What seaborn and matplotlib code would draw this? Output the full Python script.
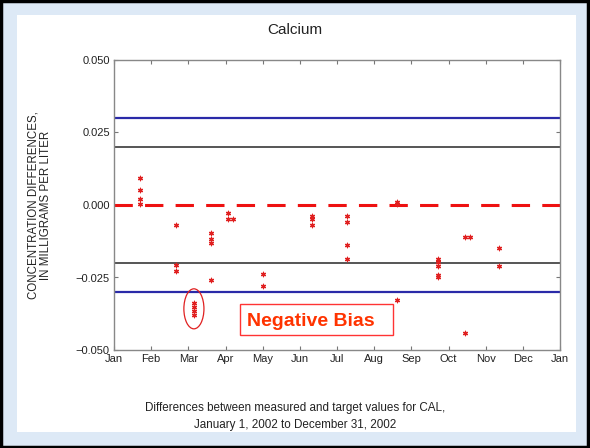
import matplotlib
matplotlib.use("Agg")
import matplotlib.pyplot as plt
from matplotlib.patches import Ellipse, Rectangle
import seaborn as sns
import pandas as pd

# month position (0 = Jan 1) and concentration differences
month_pos = [0.70, 0.70, 0.70, 0.70,
             1.66, 1.66, 1.66,
             2.15, 2.15, 2.15, 2.15,
             2.60, 2.60, 2.60, 2.60,
             3.06, 3.06, 3.20,
             4.00, 4.00,
             5.34, 5.34, 5.34,
             6.27, 6.27, 6.27, 6.27,
             7.62, 7.62, 7.62,
             8.72, 8.72, 8.72, 8.72, 8.72,
             9.45, 9.58, 9.45,
             10.36, 10.36]
differences = [0.0093, 0.0052, 0.0021, 0.0003,
               -0.0069, -0.0207, -0.0228,
               -0.0337, -0.0351, -0.0364, -0.0379,
               -0.0097, -0.0117, -0.0130, -0.0259,
               -0.0026, -0.0049, -0.0049,
               -0.0239, -0.0279,
               -0.0038, -0.0048, -0.0069,
               -0.0038, -0.0059, -0.0138, -0.0187,
               0.0011, 0.0002, -0.0328,
               -0.0187, -0.0197, -0.0210, -0.0240, -0.0250,
               -0.0109, -0.0109, -0.0440,
               -0.0149, -0.0209]
month_labels = ["Jan", "Feb", "Mar", "Apr", "May", "Jun", "Jul", "Aug",
                "Sep", "Oct", "Nov", "Dec", "Jan"]
y_ticks = [-0.050, -0.025, 0.000, 0.025, 0.050]
control_limits = [0.03, -0.03]
warning_limits = [0.02, -0.02]

df = pd.DataFrame({"month": month_pos, "diff": differences})

sns.set_style("white")
plt.rcParams["font.family"] = ["Liberation Sans", "DejaVu Sans"]

fig = plt.figure(figsize=(5.9, 4.48), dpi=100)
fig.patch.set_facecolor("#dde9f6")
# white panel and outer frame
fig.patches.append(Rectangle((17/590, 1-432/448), (576-17)/590, (432-15)/448,
                             transform=fig.transFigure, facecolor="white",
                             edgecolor="none", zorder=-2))
fig.patches.append(Rectangle((0.002, 0.003), 0.995, 0.994,
                             transform=fig.transFigure, facecolor="none",
                             edgecolor="black", linewidth=2.5, zorder=5))

ax = fig.add_axes([114/590, 1-350/448, (560-114)/590, (350-60)/448])
ax.set_zorder(1)
ax.set_facecolor("white")

for v in control_limits:
    ax.axhline(v, color="#2a2aa8", linewidth=1.6, zorder=1)
for v in warning_limits:
    ax.axhline(v, color="#555555", linewidth=1.4, zorder=1)
ax.axhline(0.0, color="#ee1111", linewidth=2.2, dashes=(6, 4), zorder=1)

sns.scatterplot(data=df, x="month", y="diff", ax=ax, marker=(6, 2, 0),
                s=10, color="#e02020", edgecolor="#e02020", linewidth=0.9,
                zorder=3, legend=False)

ax.add_patch(Ellipse((2.15, -0.0358), 0.54, 0.0138, facecolor="none",
                     edgecolor="#e02020", linewidth=0.9, zorder=3))

ax.add_patch(Rectangle((3.39, -0.0448), 4.12, 0.0107, facecolor="white",
                       edgecolor="#ff3333", linewidth=1.0, zorder=4))
ax.text(5.30, -0.0400, "Negative Bias", color="#ff3300", fontsize=14,
        fontweight="bold", ha="center", va="center", zorder=5)

ax.set_xlim(0, 12)
ax.set_ylim(-0.05, 0.05)
ax.set_xticks(range(13))
ax.set_xticklabels(month_labels)
ax.set_yticks(y_ticks)
ax.set_yticklabels(["\u22120.050", "\u22120.025", "0.000", "0.025", "0.050"])
ax.tick_params(direction="in", length=3, color="#777777", labelsize=8,
               labelcolor="#222222", top=True, right=True, bottom=True,
               left=True, labeltop=False, labelright=False, pad=3)
for s in ax.spines.values():
    s.set_color("#888888")
    s.set_linewidth(1.0)
ax.set_xlabel("")
ax.set_ylabel("CONCENTRATION DIFFERENCES,\nIN MILLIGRAMS PER LITER",
              fontsize=8.3, color="#222222", linespacing=1.1)
ax.yaxis.set_label_coords(-0.138, 0.5)

fig.text(0.5, 1-30/448, "Calcium", ha="center", va="center", fontsize=11,
         color="#222222")
fig.text(0.5, 1-408/448, "Differences between measured and target values for CAL,",
         ha="center", va="center", fontsize=8.4, color="#222222")
fig.text(0.5, 1-425/448, "January 1, 2002 to December 31, 2002",
         ha="center", va="center", fontsize=8.4, color="#222222")

fig.savefig("out.png", dpi=100, facecolor=fig.get_facecolor())
